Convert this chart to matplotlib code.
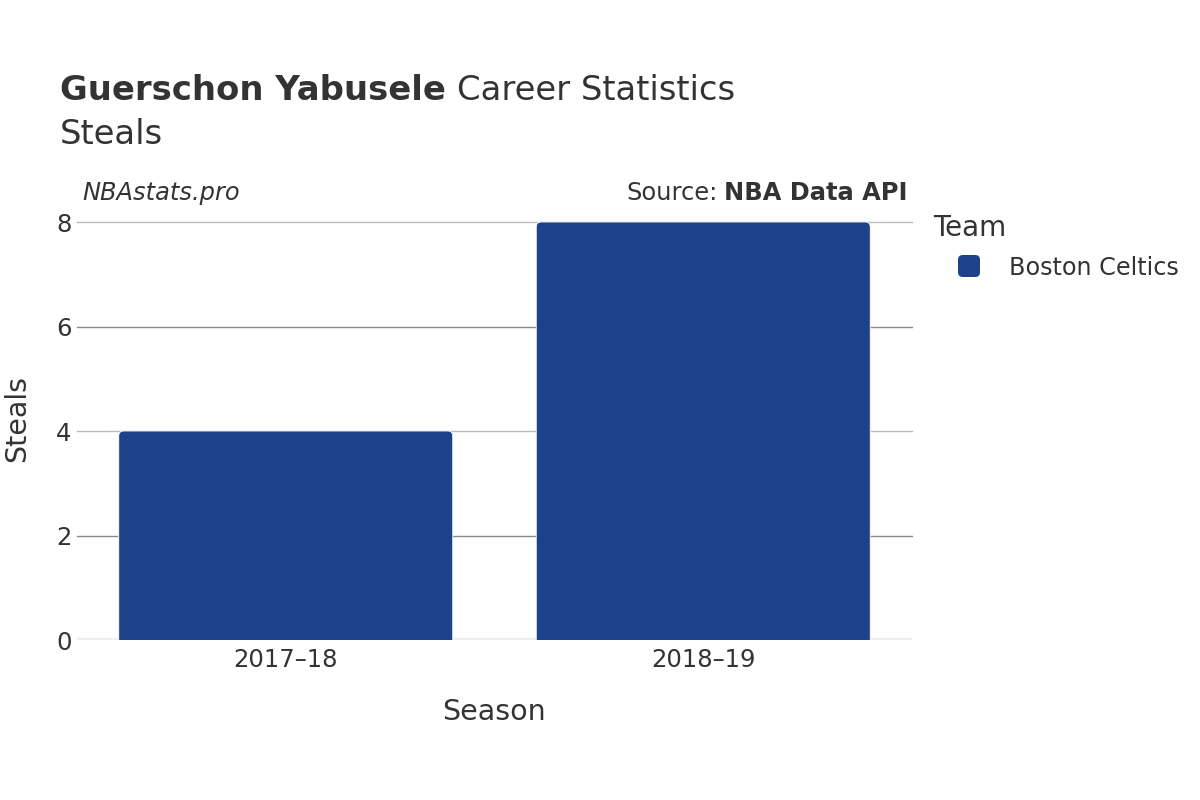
import matplotlib
matplotlib.use("Agg")
import matplotlib.pyplot as plt
from matplotlib.patches import FancyBboxPatch

seasons = ["2017–18", "2018–19"]
steals = [4, 8]
team = "Boston Celtics"
bar_color = "#1d428a"
yticks = [0, 2, 4, 6, 8]

plt.rcParams['font.family'] = ['DejaVu Sans']
fig = plt.figure(figsize=(12, 8), dpi=100)
ax = fig.add_axes([77/1200, 1-640/800, (912-77)/1200, (640-222)/800])

xs = list(range(len(seasons)))
ax.set_xlim(-0.5, len(seasons) - 0.5)
ax.set_ylim(0, 8)

# gridlines
for t in yticks[1:]:
    c = "#bbbbbb" if t in (4, 8) else "#888888"
    ax.axhline(t, color=c, lw=1, zorder=0, clip_on=False)
ax.axhline(0, color="#eeeeee", lw=3, zorder=0)

bw = 0.8
px_x = (912-77) / 2.0
px_y = (640-222) / 8.0
r_px = 5
rs = r_px / px_x
asp = (r_px / px_y) / rs
for x, v in zip(xs, steals):
    p = FancyBboxPatch((x - bw/2, -0.5), bw, v + 0.5,
                       boxstyle=f"round,pad=0,rounding_size={rs}",
                       mutation_aspect=asp, facecolor=bar_color,
                       edgecolor="#ffffff", lw=0.6, zorder=2, clip_on=True)
    ax.add_patch(p)

ax.set_xticks(xs)
ax.set_xticklabels(seasons)
ax.set_yticks(yticks)
ax.tick_params(axis='both', length=0, labelsize=17.5, labelcolor="#333333")
ax.tick_params(axis='x', pad=6)
ax.tick_params(axis='y', pad=4)
for s in ax.spines.values():
    s.set_visible(False)
ax.set_xlabel("Season", fontsize=20.5, color="#333333")
ax.set_ylabel("Steals", fontsize=20.5, color="#333333")
ax.xaxis.set_label_coords((494-77)/(912-77), -(712-640)/(640-222), transform=ax.transAxes)
ax.xaxis.label.set_va('center')
ax.yaxis.set_label_coords(-(77-17)/(912-77), (640-418)/(640-222), transform=ax.transAxes)
ax.yaxis.label.set_va('center')

# titles
r = fig.canvas.get_renderer()
t0 = fig.text(60/1200, 1-100/800, "Guerschon Yabusele", fontsize=24.4, fontweight='bold', color="#333333")
bb = t0.get_window_extent(r)
fig.text(bb.x1/1200 + 0.009, 1-100/800, "Career Statistics", fontsize=24.4, color="#333333")
fig.text(60/1200, 1-144/800, "Steals", fontsize=24.4, color="#333333")

fig.text(82/1200, 1-200/800, "NBAstats.pro", fontsize=17.4, style='italic', color="#333333")
src = fig.text(908/1200, 1-200/800, "NBA Data API", fontsize=17.4, fontweight='bold', color="#333333", ha='right')
sb = src.get_window_extent(r)
fig.text(sb.x0/1200 - 0.006, 1-200/800, "Source:", fontsize=17.4, color="#333333", ha='right')

# legend
fig.text(933/1200, 1-236/800, "Team", fontsize=20, color="#333333")
fig.add_artist(FancyBboxPatch((958/1200, 1-277/800), 22/1200, 22/800,
                              boxstyle="round,pad=0,rounding_size=0.004",
                              mutation_aspect=1.5,
                              transform=fig.transFigure, facecolor=bar_color, edgecolor="none"))
fig.text(1009/1200, 1-275/800, team, fontsize=17.2, color="#333333")

fig.savefig("out.png", dpi=100, facecolor="white")
